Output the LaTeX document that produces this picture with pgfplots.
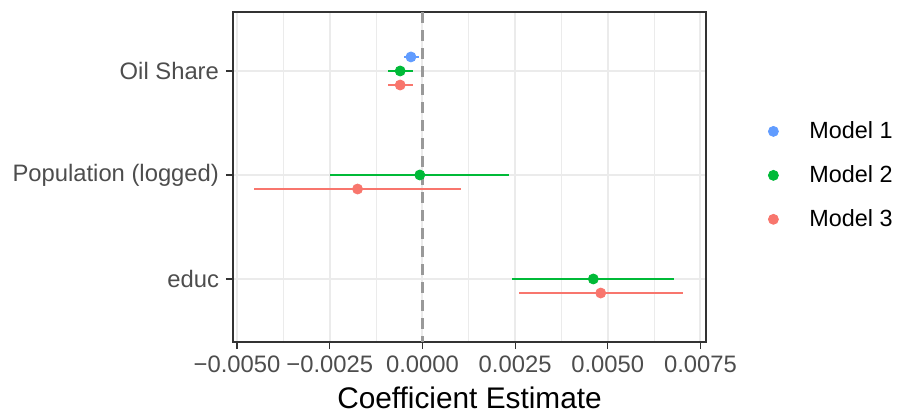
\documentclass[border=0pt]{standalone}
\usepackage{fontspec}
\setmainfont{Liberation Sans}
\usepackage{pgfplots}
\pgfplotsset{compat=1.18}
\definecolor{mred}{HTML}{F8766D}
\definecolor{mgreen}{HTML}{00BA38}
\definecolor{mblue}{HTML}{619CFF}
\definecolor{grid92}{HTML}{EBEBEB}
\definecolor{gray60}{HTML}{999999}
\definecolor{gray30}{HTML}{4D4D4D}
\definecolor{gray20}{HTML}{333333}
\begin{document}
\begin{tikzpicture}
\useasboundingbox (-116.5pt,-36pt) rectangle (333pt,171pt);
\begin{axis}[
  scale only axis, width=236.5pt, height=165pt,
  xmin=-0.00511, xmax=0.00765, ymin=0.394, ymax=3.567,
  scaled x ticks=false,
  xtick={-0.005,-0.0025,0,0.0025,0.005,0.0075},
  xticklabels={−0.0050,−0.0025,0.0000,0.0025,0.0050,0.0075},
  minor xtick={-0.00375,-0.00125,0.00125,0.00375,0.00625},
  ytick={1,2,3},
  yticklabels={educ,Population (logged),Oil Share},
  grid=both,
  major grid style={color=grid92, line width=1pt},
  minor grid style={color=grid92, line width=0.5pt},
  tick pos=left, tick align=outside,
  major tick length=3.5pt, minor tick length=0pt,
  tick style={color=gray20, line width=0.6pt},
  axis line style={gray20, line width=0.9pt},
  tick label style={font=\fontsize{11.9}{13}\selectfont, text=gray30},
  xlabel={Coefficient Estimate},
  xlabel style={font=\fontsize{14.9}{16}\selectfont, text=black},
  legend style={draw=none, fill=none, at={(1,0.505)}, anchor=west, xshift=28pt,
    font=\fontsize{11.7}{13}\selectfont, row sep=8pt},
  legend cell align=left,
  legend image code/.code={
    \path[draw=none] (0pt,0pt) -- (18pt,0pt);
    \draw plot coordinates {(2pt,0pt)};
  },
  error bars/error mark=none,
]
\addplot[only marks, mark=*, mark size=2.5pt, color=mblue,
  error bars/.cd, x dir=both, x explicit,
  error bar style={line width=1pt, color=mblue}]
  coordinates {(-0.00031,3.135) += (0.00021,0) -= (0.00019,0)};
\addlegendentry{Model 1}
\addplot[only marks, mark=*, mark size=2.5pt, color=mgreen,
  error bars/.cd, x dir=both, x explicit,
  error bar style={line width=1pt, color=mgreen}]
  coordinates {
    (-0.0006,3) += (0.00034,0) -= (0.00033,0)
    (-0.00007,2) += (0.00241,0) -= (0.00242,0)
    (0.00461,1) += (0.00218,0) -= (0.0022,0)
  };
\addlegendentry{Model 2}
\addplot[only marks, mark=*, mark size=2.5pt, color=mred,
  error bars/.cd, x dir=both, x explicit,
  error bar style={line width=1pt, color=mred}]
  coordinates {
    (-0.0006,2.865) += (0.00034,0) -= (0.00033,0)
    (-0.00175,1.865) += (0.00279,0) -= (0.00279,0)
    (0.00481,0.865) += (0.00221,0) -= (0.0022,0)
  };
\addlegendentry{Model 3}
\addplot[forget plot, color=gray60, line width=1.3pt, dash pattern=on 5.5pt off 3.5pt]
  coordinates {(0,3.567) (0,0.394)};
\end{axis}
\end{tikzpicture}
\end{document}
